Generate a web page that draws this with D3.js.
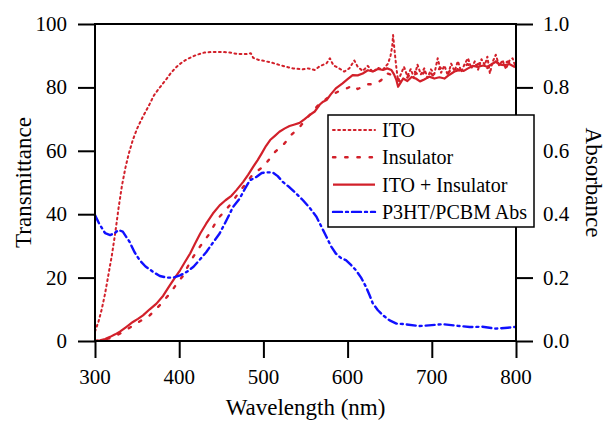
<!DOCTYPE html>
<html>
<head>
<meta charset="utf-8">
<script src="https://cdn.jsdelivr.net/npm/d3@7"></script>
<style>
  body { margin: 0; background: #fff; }
  svg { display: block; }
  text { font-family: "Liberation Serif", "Times New Roman", serif; fill: #000; }
  .tick line { stroke: #000; stroke-width: 2; }
</style>
</head>
<body>
<svg width="603" height="421"></svg>
<script>
      // transmittance (%) vs wavelength (nm)
      const itoWl = [300,304,308,312,316,320,324,328,332,336,340,345,350,355,360,365,370,375,380,385,390,395,400,405,410,415,420,425,430,440,450,460,470,480,485,488,495,500,510,520,530,535,547,553,561,567,575,579,583,590,596,602,608,612,618,624,630,636,642,648,651,653,654,656,658,660,663,667,671,675,679,683,687,691,695,699,703,707,711,715,719,723,727,731,735,739,743,747,751,755,759,763,766,769,772,776,780,784,788,792,796,800];
      const itoT = [3,6,10,15,21,27,34,42,49,54.5,59,63.5,67,69.8,72.3,74.8,77.5,79.3,81,82.7,84.5,86,87.2,88.2,89,89.6,90.2,90.6,91,91.2,91.2,91,90.5,90.5,90.8,89.3,88.6,88.4,87.8,87,86.3,86,85.7,86,85.5,86.7,87.6,89.2,87,86,85,86,88.5,86.5,85.2,86.8,84.8,86.2,85.6,87.5,90,93,96.5,91,86,82,84,86.5,83.5,85.8,82.9,87.2,84.1,86,83,85.7,84.2,89.2,84.6,86.9,83.8,87.5,85.1,88.3,84.9,87.4,89.2,86,88.2,85.6,88.9,87,89.7,84.4,87.9,90.3,86.8,88.6,85.8,88.4,89.2,86];

      const insWl = [300,310,320,330,340,352,365,377,389,397,405,413,423,435,446,460,470,480,488,500,514,525,533,543,553,565,573,580,586,593,600,606,612,618,624,632,640,646,652,658,664,670,678,686,694,702,710,718,726,734,742,750,758,766,774,782,790,800];
      const insT = [0,0.4,1,2.4,4,6,8.1,11.3,15,18,20.7,25,29.2,33.5,38.6,42.8,46.5,50,52.8,55,59.7,62.3,65,67.5,70.7,74.4,76,77.5,78.3,79.3,79.8,80.7,79.5,80.2,81,81,82.3,84.5,84,83,81.5,82.8,85.5,83.2,85.8,83.6,86.2,84.3,86.4,85.2,87.3,86.6,87.8,86.1,88.5,87.2,88.1,87.4];

      const bothWl = [300,306,312,318,324,330,337,345,351,357,365,373,381,389,395,401,407,413,419,425,432,440,448,455,462,468,476,482,488,493,498,503,508,514,519,525,531,537,543,549,555,561,567,571,575,580,586,590,594,600,606,612,618,624,630,636,642,647,652,655,658,660,663,666,671,676,681,686,691,697,703,709,715,721,727,733,738,743,749,755,761,766,771,776,781,786,792,798,800];
      const bothT = [0,0.2,0.6,1.3,2.1,3,4.4,6,7,8.1,10,11.8,14.3,17.6,20,22.3,25,27.6,30.8,33.9,37,40.2,42.8,44.4,45.8,47.6,50.2,52.5,55,57,59.2,61.5,63.4,64.8,66,67,67.8,68.3,68.8,70,71.3,72.4,74.6,75.5,76,77.8,79.7,80.5,81.3,82.6,83.9,83.8,84.4,85.4,85,85.8,85.5,86,85.5,84.2,82.3,80.2,81.5,82.8,82,83.3,82.8,81.9,82.5,83.4,82.8,83.2,82.8,84,85,85.5,85.2,86,86.8,86.5,86.9,86.5,87.3,88.1,87.2,87,87.4,86.5,87];

      // absorbance vs wavelength (nm)
      const absWl = [300,305,312,318,323,328,333,341,347,353,360,369,377,385,393,401,409,417,424,432,440,448,456,464,472,478,484,492,498,504,511,517,523,531,539,547,555,563,569,575,580,586,592,598,604,610,616,622,626,630,636,642,650,658,668,685,700,713,730,745,760,776,790,798];
      const absA = [0.397,0.37,0.34,0.334,0.34,0.35,0.345,0.313,0.28,0.255,0.235,0.218,0.205,0.2,0.2,0.207,0.218,0.234,0.255,0.28,0.31,0.339,0.38,0.423,0.45,0.48,0.507,0.518,0.53,0.532,0.532,0.52,0.502,0.485,0.465,0.444,0.42,0.392,0.36,0.328,0.3,0.276,0.262,0.255,0.24,0.223,0.2,0.17,0.145,0.118,0.097,0.081,0.065,0.055,0.053,0.047,0.05,0.053,0.048,0.044,0.045,0.039,0.042,0.044];

      const xTicks = [300,400,500,600,700,800];
      const yTicks = [0,20,40,60,80,100];
      const rTicks = [0,0.2,0.4,0.6,0.8,1.0];

      const red = '#d2202a';
      const blue = '#1010ff';

      const series = [
        { name: 'ITO', wl: itoWl, v: itoT, axis: 'left', color: red, width: 2, dash: '1.8,3.4' },
        { name: 'Insulator', wl: insWl, v: insT, axis: 'left', color: red, width: 2.4, dash: '2.4,9.8' },
        { name: 'ITO + Insulator', wl: bothWl, v: bothT, axis: 'left', color: red, width: 2.2, dash: null },
        { name: 'P3HT/PCBM Abs', wl: absWl, v: absA, axis: 'right', color: blue, width: 2.4, dash: '9,4,2,4' }
      ];

      const margin = { left: 95, right: 87, top: 24, bottom: 80 };
      const svg = d3.select('svg');
      const width = +svg.attr('width');
      const height = +svg.attr('height');
      const innerWidth = width - margin.left - margin.right;
      const innerHeight = height - margin.top - margin.bottom;

      const g = svg.append('g')
          .attr('transform', `translate(${margin.left},${margin.top})`);

      const xScale = d3.scaleLinear().domain([300, 800]).range([0, innerWidth]);
      const yScale = d3.scaleLinear().domain([0, 100]).range([innerHeight, 0]);
      const rScale = d3.scaleLinear().domain([0, 1]).range([innerHeight, 0]);

      // curves
      series.forEach(s => {
        const ys = s.axis === 'left' ? yScale : rScale;
        const line = d3.line()
          .x((d, i) => xScale(s.wl[i]))
          .y(d => ys(d));
        g.append('path')
          .datum(s.v)
          .attr('fill', 'none')
          .attr('stroke', s.color)
          .attr('stroke-width', s.width)
          .attr('stroke-dasharray', s.dash)
          .attr('stroke-linecap', s.dash ? 'round' : 'butt')
          .attr('stroke-linejoin', 'round')
          .attr('d', line);
      });

      // frame
      g.append('rect')
        .attr('width', innerWidth)
        .attr('height', innerHeight)
        .attr('fill', 'none')
        .attr('stroke', '#000')
        .attr('stroke-width', 2);

      // tick marks from d3 axes, labels placed with the same scales
      const xAxisG = g.append('g')
          .attr('transform', `translate(0,${innerHeight})`)
          .call(d3.axisBottom(xScale).tickValues(xTicks).tickSize(17).tickFormat(''));
      const yAxisG = g.append('g')
          .call(d3.axisLeft(yScale).tickValues(yTicks).tickSize(17).tickFormat(''));
      const rAxisG = g.append('g')
          .attr('transform', `translate(${innerWidth},0)`)
          .call(d3.axisRight(rScale).tickValues(rTicks).tickSize(17).tickFormat(''));
      [xAxisG, yAxisG, rAxisG].forEach(a => {
        a.select('.domain').remove();
        a.selectAll('.tick text').remove();
      });

      const labels = g.append('g').attr('font-size', 21);
      labels.selectAll('.xl').data(xTicks).enter().append('text')
        .attr('x', d => xScale(d))
        .attr('y', innerHeight + 43)
        .attr('text-anchor', 'middle')
        .text(d => d);
      labels.selectAll('.yl').data(yTicks).enter().append('text')
        .attr('x', -28)
        .attr('y', d => yScale(d))
        .attr('dy', '0.33em')
        .attr('text-anchor', 'end')
        .text(d => d);
      labels.selectAll('.rl').data(rTicks).enter().append('text')
        .attr('x', innerWidth + 27)
        .attr('y', d => rScale(d))
        .attr('dy', '0.33em')
        .text(d => d3.format('.1f')(d));

      // axis titles
      svg.append('text')
        .attr('x', margin.left + innerWidth / 2)
        .attr('y', 415)
        .attr('text-anchor', 'middle')
        .attr('font-size', 23)
        .text('Wavelength (nm)');
      svg.append('text')
        .attr('transform', `translate(31,${margin.top + innerHeight / 2}) rotate(-90)`)
        .attr('text-anchor', 'middle')
        .attr('font-size', 23)
        .text('Transmittance');
      svg.append('text')
        .attr('transform', `translate(586,${margin.top + innerHeight / 2}) rotate(90)`)
        .attr('text-anchor', 'middle')
        .attr('font-size', 23)
        .text('Absorbance');

      // legend
      const legend = svg.append('g').attr('transform', 'translate(328,115)');
      legend.append('rect')
        .attr('width', 206)
        .attr('height', 112)
        .attr('fill', '#fff')
        .attr('stroke', '#000')
        .attr('stroke-width', 1.5);
      series.forEach((s, i) => {
        const yy = 15 + i * 27.3;
        legend.append('line')
          .attr('x1', 5).attr('x2', 47)
          .attr('y1', yy).attr('y2', yy)
          .attr('stroke', s.color)
          .attr('stroke-width', s.width)
          .attr('stroke-dasharray', s.dash)
          .attr('stroke-linecap', s.dash ? 'round' : 'butt');
        legend.append('text')
          .attr('x', 54)
          .attr('y', yy)
          .attr('dy', '0.35em')
          .attr('font-size', 20)
          .text(s.name);
      });
</script>
</body>
</html>
